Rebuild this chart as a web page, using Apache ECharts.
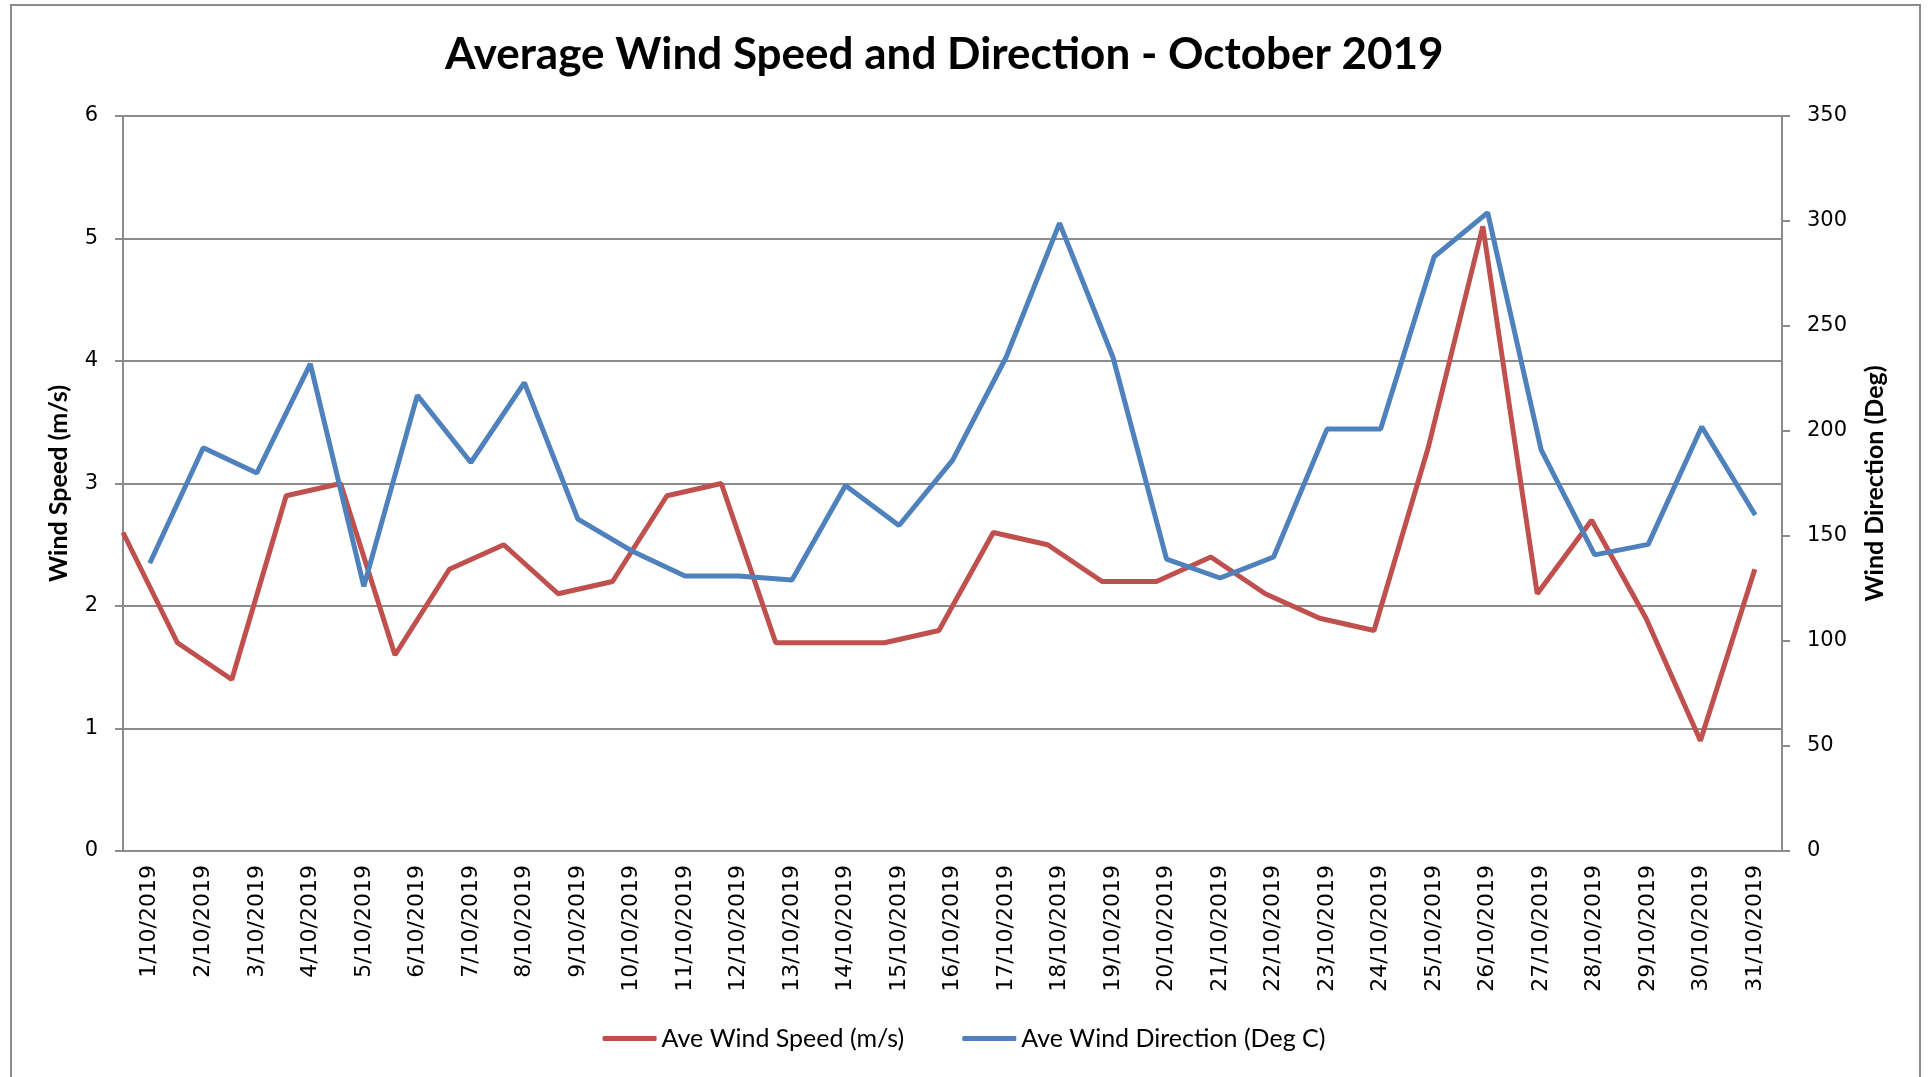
<!DOCTYPE html>
<html>
<head>
<meta charset="utf-8">
<title>Average Wind Speed and Direction - October 2019</title>
<script src="https://cdn.jsdelivr.net/npm/echarts@6/dist/echarts.min.js"></script>
<style>
  html, body { margin: 0; padding: 0; background: #fff; }
  #chart { width: 1928px; height: 1077px; }
</style>
</head>
<body>
<div id="chart"></div>
<script>
// days of October 2019
const days = [
  '1/10/2019', '2/10/2019', '3/10/2019', '4/10/2019', '5/10/2019', '6/10/2019',
  '7/10/2019', '8/10/2019', '9/10/2019', '10/10/2019', '11/10/2019', '12/10/2019',
  '13/10/2019', '14/10/2019', '15/10/2019', '16/10/2019', '17/10/2019', '18/10/2019',
  '19/10/2019', '20/10/2019', '21/10/2019', '22/10/2019', '23/10/2019', '24/10/2019',
  '25/10/2019', '26/10/2019', '27/10/2019', '28/10/2019', '29/10/2019', '30/10/2019',
  '31/10/2019',
];

// m/s
const windSpeed = [
  2.6, 1.7, 1.4, 2.9, 3.0, 1.6, 2.3, 2.5, 2.1, 2.2, 2.9, 3.0, 1.7, 1.7, 1.7, 1.8,
  2.6, 2.5, 2.2, 2.2, 2.4, 2.1, 1.9, 1.8, 3.3, 5.1, 2.1, 2.7, 1.9, 0.9, 2.3,
];

// degrees
const windDirection = [
  137, 192, 180, 232, 126, 217, 185, 223, 158, 143, 131, 131, 129, 174, 155, 186,
  235, 299, 235, 139, 130, 140, 201, 201, 283, 304, 191, 141, 146, 202, 160,
];

const speedTicks = [0, 6, 1];
const directionTicks = [0, 350, 50];

const RED = '#C0504D';
const BLUE = '#4F81BD';
const GREY = '#8c8c8c';
const labelFont = { color: '#000', fontFamily: 'DejaVu Sans', fontSize: 21 };
const nameFont = { fontFamily: 'Lato', fontWeight: 'bold', fontSize: 25, color: '#000' };

const chart = echarts.init(document.getElementById('chart'));

const option = {
  backgroundColor: '#fff',
  animation: false,
  graphic: [{
    type: 'rect',
    shape: { x: 11, y: 5, width: 1909, height: 1100 },
    style: { fill: 'none', stroke: GREY, lineWidth: 2 },
    silent: true,
  }],
  title: {
    text: 'Average Wind Speed and Direction - October 2019',
    left: 440,
    top: 28,
    textStyle: {
      fontFamily: 'Lato',
      fontWeight: 'bold',
      fontSize: 44,
      color: '#000',
    },
  },
  legend: {
    bottom: 21,
    left: 'center',
    itemWidth: 54,
    itemHeight: 5,
    itemGap: 58,
    icon: 'roundRect',
    textStyle: { fontFamily: 'Lato', fontSize: 25, color: '#000' },
    data: ['Ave Wind Speed (m/s)', 'Ave Wind Direction (Deg C)'],
  },
  grid: {
    left: 123,
    right: 146,
    top: 116,
    bottom: 226,
  },
  xAxis: [{
    type: 'category',
    data: days,
    boundaryGap: true,
    axisLine: { lineStyle: { color: GREY, width: 2 } },
    axisTick: { show: false },
    axisLabel: { ...labelFont, fontSize: 22, rotate: 90, interval: 0, margin: 14 },
  }, {
    // the speed series sits on its own hidden day scale
    type: 'value',
    show: false,
    min: 0,
    max: 30.5,
  }],
  yAxis: [{
    type: 'value',
    name: 'Wind Speed (m/s)',
    nameLocation: 'middle',
    nameGap: 52,
    nameTextStyle: nameFont,
    min: speedTicks[0],
    max: speedTicks[1],
    interval: speedTicks[2],
    axisLine: { show: true, lineStyle: { color: GREY, width: 2 } },
    axisTick: { show: true, length: 8, lineStyle: { color: GREY, width: 2 } },
    axisLabel: { ...labelFont, margin: 25 },
    splitLine: { show: true, lineStyle: { color: GREY, width: 2 } },
  }, {
    type: 'value',
    name: 'Wind Direction (Deg)',
    nameLocation: 'middle',
    nameGap: 80,
    nameRotate: 90,
    nameTextStyle: nameFont,
    min: directionTicks[0],
    max: directionTicks[1],
    interval: directionTicks[2],
    axisLine: { show: true, lineStyle: { color: GREY, width: 2 } },
    axisTick: { show: true, length: 8, lineStyle: { color: GREY, width: 2 } },
    axisLabel: { ...labelFont, margin: 25 },
    splitLine: { show: false },
  }],
  series: [{
    name: 'Ave Wind Speed (m/s)',
    type: 'line',
    xAxisIndex: 1,
    yAxisIndex: 0,
    data: windSpeed.map((v, i) => [i, v]),
    showSymbol: false,
    color: RED,
    lineStyle: { color: RED, width: 5 },
  }, {
    name: 'Ave Wind Direction (Deg C)',
    type: 'line',
    xAxisIndex: 0,
    yAxisIndex: 1,
    data: windDirection,
    showSymbol: false,
    color: BLUE,
    lineStyle: { color: BLUE, width: 5 },
  }],
};

chart.setOption(option);
</script>
</body>
</html>
